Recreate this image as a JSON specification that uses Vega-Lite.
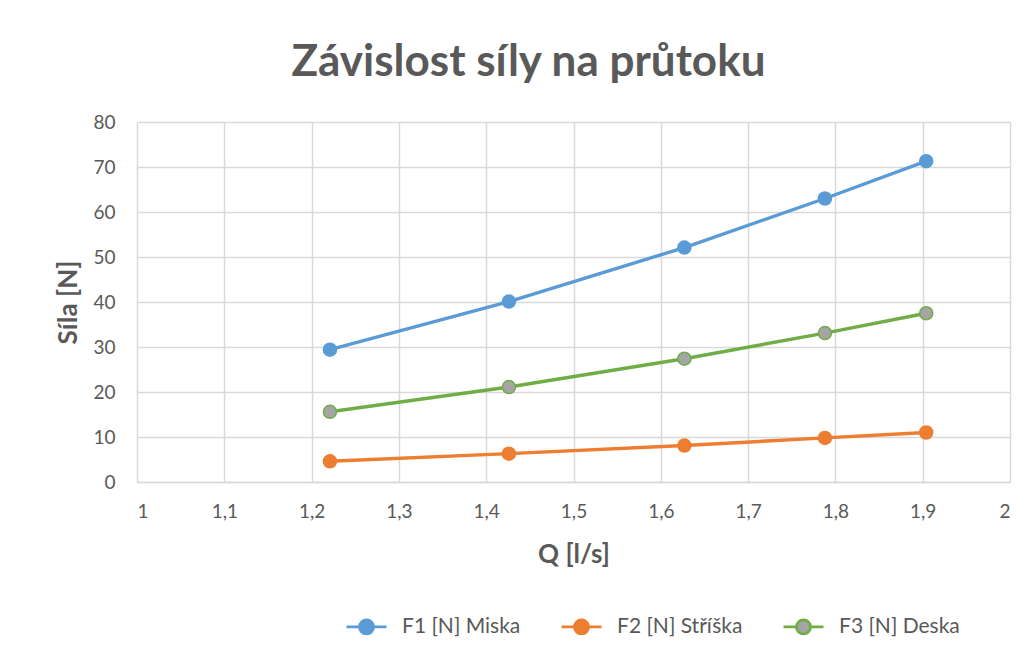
{
  "$schema": "https://vega.github.io/schema/vega-lite/v6.json",
  "width": 873,
  "height": 360,
  "autosize": {"type": "none"},
  "padding": {"left": 137, "top": 122, "right": 23, "bottom": 181},
  "background": "white",
  "title": {
    "text": "Závislost síly na průtoku",
    "font": "Lato",
    "fontSize": 44,
    "fontWeight": "bold",
    "color": "#595959",
    "offset": 28,
    "dx": -45
  },
  "data": {
    "values": [
      {"series": "F1 [N] Miska", "Q": 1.221, "F": 29.4},
      {"series": "F1 [N] Miska", "Q": 1.426, "F": 40.1},
      {"series": "F1 [N] Miska", "Q": 1.627, "F": 52.1},
      {"series": "F1 [N] Miska", "Q": 1.788, "F": 63.0},
      {"series": "F1 [N] Miska", "Q": 1.904, "F": 71.3},
      {"series": "F2 [N] Stříška", "Q": 1.221, "F": 4.6},
      {"series": "F2 [N] Stříška", "Q": 1.426, "F": 6.3},
      {"series": "F2 [N] Stříška", "Q": 1.627, "F": 8.1},
      {"series": "F2 [N] Stříška", "Q": 1.788, "F": 9.8},
      {"series": "F2 [N] Stříška", "Q": 1.904, "F": 11.0},
      {"series": "F3 [N] Deska", "Q": 1.221, "F": 15.6},
      {"series": "F3 [N] Deska", "Q": 1.426, "F": 21.1},
      {"series": "F3 [N] Deska", "Q": 1.627, "F": 27.4},
      {"series": "F3 [N] Deska", "Q": 1.788, "F": 33.1},
      {"series": "F3 [N] Deska", "Q": 1.904, "F": 37.5}
    ]
  },
  "encoding": {
    "x": {
      "field": "Q",
      "type": "quantitative",
      "scale": {"domain": [1, 2], "nice": false, "zero": false},
      "axis": {
        "title": "Q [l/s]",
        "values": [1, 1.1, 1.2, 1.3, 1.4, 1.5, 1.6, 1.7, 1.8, 1.9, 2],
        "labelExpr": "replace(format(datum.value, '.1~f'), '.', ',')",
        "labelPadding": 20,
        "titlePadding": 20
      }
    },
    "y": {
      "field": "F",
      "type": "quantitative",
      "scale": {"domain": [0, 80], "nice": false},
      "axis": {
        "title": "Síla [N]",
        "values": [0, 10, 20, 30, 40, 50, 60, 70, 80],
        "labelPadding": 22,
        "titlePadding": 11,
        "domain": false
      }
    }
  },
  "layer": [
    {
      "mark": {"type": "line", "strokeWidth": 3.4},
      "encoding": {
        "stroke": {
          "field": "series",
          "type": "nominal",
          "scale": {"domain": ["F1 [N] Miska", "F2 [N] Stříška", "F3 [N] Deska"], "range": ["#5B9BD5", "#ED7D31", "#70AD47"]}
        }
      }
    },
    {
      "mark": {"type": "point", "filled": true, "size": 170, "opacity": 1, "strokeWidth": 1.5},
      "encoding": {
        "fill": {
          "field": "series",
          "type": "nominal",
          "scale": {"domain": ["F1 [N] Miska", "F2 [N] Stříška", "F3 [N] Deska"], "range": ["#5B9BD5", "#ED7D31", "#A5A5A5"]},
          "legend": {
            "title": null,
            "orient": "none",
            "legendX": 208,
            "legendY": 483,
            "direction": "horizontal"
          }
        },
        "stroke": {
          "field": "series",
          "type": "nominal"
        }
      }
    }
  ],
  "config": {
    "font": "Lato",
    "view": {"stroke": null},
    "legend": {
      "symbolType": "M-1,0H-0.35M0.35,0H1M-0.35,0A0.35,0.35 0 1,1 0.35,0A0.35,0.35 0 1,1 -0.35,0Z",
      "symbolSize": 1600,
      "symbolStrokeWidth": 2.8,
      "labelFont": "Lato",
      "labelFontSize": 21,
      "labelColor": "#595959",
      "labelOffset": 14,
      "columnPadding": 34
    },
    "axis": {
      "gridColor": "#D9D9D9",
      "gridWidth": 1.5,
      "ticks": false,
      "domainColor": "#D9D9D9",
      "domainWidth": 1.5,
      "labelFont": "Lato",
      "labelFontSize": 19,
      "labelColor": "#595959",
      "titleFont": "Lato",
      "titleFontSize": 26,
      "titleFontWeight": "bold",
      "titleColor": "#595959"
    }
  }
}
